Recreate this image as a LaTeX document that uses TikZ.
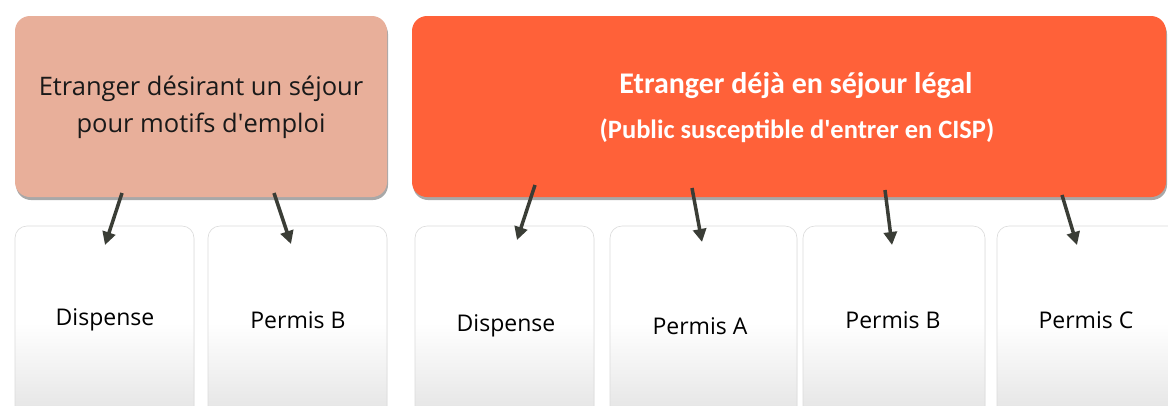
\documentclass[tikz,border=0pt]{standalone}
\usepackage{fontspec}
\setmainfont{Open Sans}
\newfontfamily\calib{Carlito}
\usetikzlibrary{shadows,arrows.meta}
\definecolor{pinkhdr}{HTML}{E8AF9A}
\definecolor{orangehdr}{HTML}{FF6139}
\definecolor{arrowcol}{HTML}{3A3D36}
\tikzset{
  hdr/.style={rounded corners=15pt, draw=none, drop shadow={shadow xshift=1pt, shadow yshift=-3pt, opacity=0.45, fill=black!75}},
  leaf/.style={rounded corners=12pt, draw=black!14, line width=0.6pt, top color=white, bottom color=black!11, middle color=white, drop shadow={shadow xshift=0pt, shadow yshift=-1pt, opacity=0.3}},
  leaftext/.style={font=\fontsize{23}{27}\selectfont, text=black},
  conn/.style={draw=arrowcol, line width=3.5pt, -{Triangle[width=13pt,length=13pt]}},
}
\begin{document}
\begin{tikzpicture}[x=1pt,y=-1pt]
\useasboundingbox (0,0) rectangle (1168,405);
\clip (0,0) rectangle (1168,405);
\fill[white] (0,0) rectangle (1168,405);
% headers
\path[hdr, fill=pinkhdr] (15,16) rectangle (387,197);
\path[hdr, fill=orangehdr] (412,16) rectangle (1166,197);
\node[align=center, font=\fontsize{25.5}{37}\selectfont, text=black!90] (h1t) at (201,107) {Etranger désirant un séjour\\pour motifs d\textquotesingle emploi};
\node[font=\calib\bfseries\fontsize{30}{34}\selectfont, text=white] (h2a) at (796,86) {Etranger déjà en séjour légal};
\node[font=\calib\bfseries\fontsize{26.5}{30}\selectfont, text=white] (h2b) at (797,131) {(Public susceptible d\textquotesingle entrer en CISP)};
% leaves
\path[leaf] (15,226) rectangle (194,420);
\path[leaf] (208,226) rectangle (387,420);
\path[leaf] (415,226) rectangle (594,420);
\path[leaf] (610,226) rectangle (797,420);
\path[leaf] (803,226) rectangle (985,420);
\path[leaf] (997,226) rectangle (1180,420);
\node[leaftext] (l1) at (105,320) {Dispense};
\node[leaftext] (l2) at (298,320) {Permis B};
\node[leaftext] (r1) at (506,326) {Dispense};
\node[leaftext] (r2) at (700,326) {Permis A};
\node[leaftext] (r3) at (893,320) {Permis B};
\node[leaftext] (r4) at (1086,320) {Permis C};
% connector endpoints
\coordinate (a1s) at (122,193); \coordinate (a1e) at (105,245);
\coordinate (a2s) at (274,193); \coordinate (a2e) at (291,244);
\coordinate (b1s) at (535,185); \coordinate (b1e) at (517,240);
\coordinate (b2s) at (692,188); \coordinate (b2e) at (702,242);
\coordinate (b3s) at (885,190); \coordinate (b3e) at (892,245);
\coordinate (b4s) at (1062,195); \coordinate (b4e) at (1077,245);
\draw[conn] (a1s) -- (a1e);
\draw[conn] (a2s) -- (a2e);
\draw[conn] (b1s) -- (b1e);
\draw[conn] (b2s) -- (b2e);
\draw[conn] (b3s) -- (b3e);
\draw[conn] (b4s) -- (b4e);
\end{tikzpicture}
\end{document}
